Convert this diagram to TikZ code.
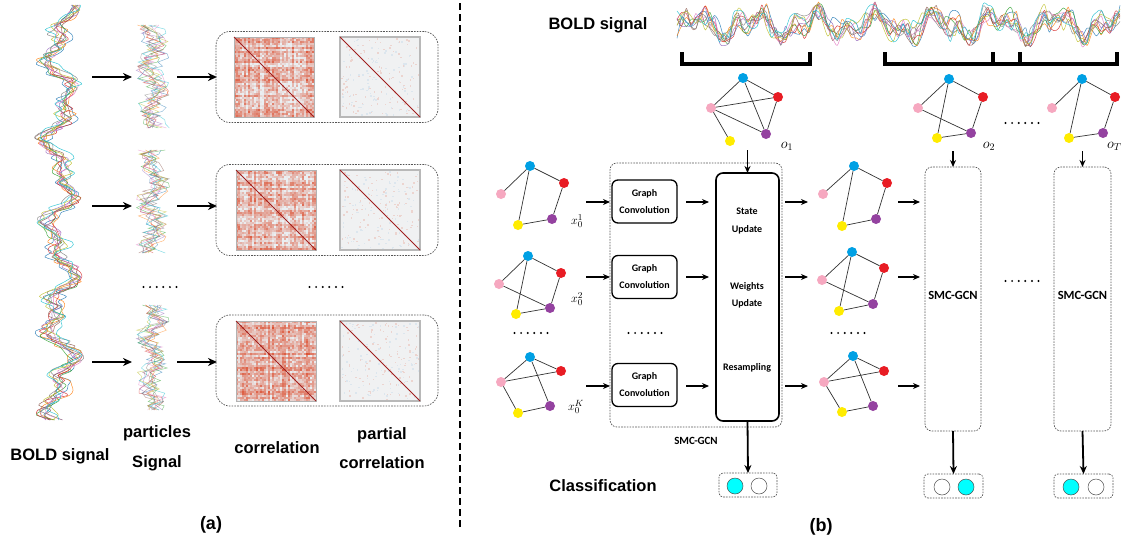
\documentclass[tikz,border=0pt]{standalone}
\usepackage{fontspec}
\newfontfamily\labfont{Liberation Sans}
\newfontfamily\boxfont{Carlito}
\usetikzlibrary{arrows.meta}

% graph node colours
\definecolor{nblue}{RGB}{0,160,228}
\definecolor{nred}{RGB}{232,28,36}
\definecolor{npink}{RGB}{246,168,192}
\definecolor{npurple}{RGB}{148,66,160}
\definecolor{nyellow}{RGB}{255,236,0}
\definecolor{ccyan}{RGB}{0,255,255}
% matrix colours
\definecolor{corrhi}{RGB}{220,80,50}
\definecolor{corrlo}{RGB}{234,239,242}
\definecolor{plo}{RGB}{240,241,242}
\definecolor{pblue}{RGB}{220,230,238}
\definecolor{diagred}{RGB}{160,30,30}
\definecolor{boxgrey}{RGB}{85,85,85}
% signal colours
\definecolor{sA}{HTML}{1F77B4}
\definecolor{sB}{HTML}{FF7F0E}
\definecolor{sC}{HTML}{2CA02C}
\definecolor{sD}{HTML}{D62728}
\definecolor{sE}{HTML}{9467BD}
\definecolor{sF}{HTML}{8C564B}
\definecolor{sG}{HTML}{E377C2}
\definecolor{sH}{HTML}{7F7F7F}
\definecolor{sI}{HTML}{BCBD22}
\definecolor{sJ}{HTML}{17BECF}

\pgfmathdeclarefunction{hsh}{1}{\pgfmathparse{abs(frac(sin(#1*91.7)*437.58))}}

\tikzset{
  gn/.style={circle,inner sep=0pt,outer sep=0pt,minimum size=10pt},
  ge/.style={draw=black!80,line width=0.7pt},
  bigarrow/.style={line width=2.2pt,-{Stealth[length=9pt,width=8pt]}},
  arr/.style={line width=1.4pt,-{Stealth[length=7pt,width=6pt]}},
  downarr/.style={line width=1.8pt,-{Stealth[length=8pt,width=7pt]}},
  dbox/.style={draw=boxgrey,line width=0.7pt,dash pattern=on 1.6pt off 1.2pt,
    inner sep=0pt,outer sep=0pt},
  gcbox/.style={draw,line width=1.3pt,rounded corners=6pt,minimum width=65pt,
    minimum height=43pt,align=center,inner sep=0pt,outer sep=0pt,
    font=\boxfont\bfseries\fontsize{10}{17}\selectfont},
  intext/.style={align=center,inner sep=0pt,
    font=\boxfont\bfseries\fontsize{10}{17.5}\selectfont},
  biglab/.style={align=center,inner sep=0pt,
    font=\labfont\bfseries\fontsize{16.5}{29.5}\selectfont},
  cls/.style={circle,draw=black!70,line width=0.5pt,minimum size=16pt,inner sep=0pt},
  dotrow/.pic={\foreach \k in {0,...,5} \fill (\k*6.6-16.5,0) circle (1.1pt);},
}

% five coloured vertices of one brain graph
\newcommand\gnodes[6]{%
  \node[gn,fill=nblue]   (#1b) at (#2) {};
  \node[gn,fill=nred]    (#1r) at (#3) {};
  \node[gn,fill=npink]   (#1p) at (#4) {};
  \node[gn,fill=npurple] (#1u) at (#5) {};
  \node[gn,fill=nyellow] (#1y) at (#6) {};}
\newcommand\edgesA[1]{\draw[ge] (#1p)--(#1b)--(#1r)--(#1u)--(#1y)--(#1b);}
\newcommand\edgesB[1]{\edgesA{#1}\draw[ge] (#1p)--(#1u);}
\newcommand\edgesC[1]{\draw[ge] (#1p)--(#1b)--(#1r)--(#1p)--(#1y)--(#1u)--(#1b);}
\newcommand\edgesD[1]{\draw[ge] (#1p)--(#1b)--(#1r)--(#1p)--(#1u)--(#1b);
  \draw[ge] (#1r)--(#1u); \draw[ge] (#1p)--(#1y);}

% correlation heat map: top-left corner, seed offset
\newcommand\corrmat[3]{%
  \foreach \i in {0,...,39}{\foreach \j in {0,...,39}{%
    \pgfmathtruncatemacro\v{max(0,min(100,-6+42*(hsh(\i+#3)+hsh(\j+#3))+26*rand))}%
    \fill[corrhi!\v!corrlo] ({#1+\i*2},{#2+\j*2}) rectangle ++(2.05,2.05);}}%
  \draw[black!30,line width=0.6pt] (#1,#2) rectangle ++(80,80);
  \draw[diagred,line width=0.9pt] (#1,#2) -- ++(80,80);}
% partial correlation heat map
\newcommand\pcorrmat[2]{%
  \fill[plo] (#1,#2) rectangle ++(80,80);
  \foreach \k in {1,...,110}{%
    \pgfmathsetmacro\px{#1+1+77*rnd}\pgfmathsetmacro\py{#2+1+77*rnd}%
    \fill[corrhi!18!plo] (\px,\py) rectangle ++(1.5,1.5);}
  \foreach \k in {1,...,90}{%
    \pgfmathsetmacro\px{#1+1+77*rnd}\pgfmathsetmacro\py{#2+1+77*rnd}%
    \fill[pblue] (\px,\py) rectangle ++(1.5,1.5);}
  \draw[black!28,line width=1.3pt] (#1,#2) rectangle ++(80,80);
  \draw[diagred,line width=0.9pt] (#1,#2) -- ++(80,80);}

\begin{document}
\begin{tikzpicture}[x=1pt,y=-1pt]
\pgfmathsetseed{11}
\fill[white] (0,0) rectangle (1127,546);
\useasboundingbox (0,0) rectangle (1127,546);

% ---------------- (a) ----------------
% whole-scan BOLD signal, vertical
\foreach \c [count=\i] in {sA,sB,sC,sD,sE,sF,sG,sH,sI,sJ}{
  \draw[\c,line width=0.5pt,opacity=0.85] plot[smooth,samples=85,domain=5:420]
    ({60+11*sin(4.1*\x+\i*9)+7*sin(9.3*\x+40)+8*rand},{\x});
}
% particle signals
\foreach \top/\bot in {25/128,150/253,305/410}{
  \foreach \c [count=\i] in {sA,sB,sC,sD,sE,sF,sG,sH,sI,sJ}{
    \draw[\c,line width=0.45pt,opacity=0.55] plot[samples=26,domain=\top:\bot]
      ({153+6*sin(8*\x+\i*15)+11*rand},{\x});
  }
}
% arrows
\foreach \r/\yy in {1/77,2/206,3/362}{
  \coordinate (aS\r) at (92,\yy);
  \coordinate (aM\r) at (132,\yy);
  \coordinate (aN\r) at (177,\yy);
  \coordinate (aE\r) at (217,\yy);
  \draw[bigarrow] (aS\r) -- (aM\r);
  \draw[bigarrow] (aN\r) -- (aE\r);
}
% matrix panels
\node[dbox,rounded corners=14pt,minimum width=222pt,minimum height=91pt] (pan1) at (327,77) {};
\node[dbox,rounded corners=14pt,minimum width=222pt,minimum height=91pt] (pan2) at (327,210) {};
\node[dbox,rounded corners=14pt,minimum width=222pt,minimum height=91pt] (pan3) at (327,360.5) {};
\corrmat{234}{37}{3}
\pcorrmat{340}{37}
\corrmat{236}{170}{41}
\pcorrmat{340}{170}
\corrmat{236}{321}{77}
\pcorrmat{340}{321}
\pic at (160,287) {dotrow};
\pic at (326,287) {dotrow};
% column labels
\node[biglab] (lbold) at (60,456) {BOLD signal};
\node[biglab] (lpart) at (157,448.5) {particles\\Signal};
\node[biglab] (lcorr) at (277,448) {correlation};
\node[biglab] (lpcor) at (382,448) {partial\\correlation};
\node[font=\labfont\bfseries\fontsize{18}{20}\selectfont] (capa) at (211,525) {(a)};

% divider
\draw[line width=1.6pt,dash pattern=on 7pt off 4pt] (460,3) -- (460,530);

% ---------------- (b) ----------------
\node[biglab] (rbold) at (598,25) {BOLD signal};
\begin{scope}
  \clip (676,0) rectangle (1121,56);
  \foreach \c [count=\i] in {sA,sB,sC,sD,sE,sF,sG,sH,sI,sJ}{
    \draw[\c,line width=0.5pt,opacity=0.85] plot[smooth,samples=95,domain=677:1120]
      ({\x},{25+9*sin(6*\x+\i*10)+6*sin(13*\x+50)+9*rand});
  }
\end{scope}
% sliding windows
\draw[line width=3.3pt] (682,52) |- (810,64) -- (810,52);
\draw[line width=3.3pt] (885,52) |- (1020,64) -- (1020,52);
\draw[line width=3.3pt] (993,52) |- (1117,64) -- (1117,52);

% observation graphs
\gnodes{oa}{743,78}{778,97}{711,108}{766,134}{730,141}
\edgesD{oa}
\node[font=\fontsize{14}{16}\selectfont,inner sep=0pt] (loa) at (787,146) {$o_1$};
\gnodes{ob}{949,79}{983,97}{918,108}{971,133}{937,138}
\edgesB{ob}
\node[font=\fontsize{14}{16}\selectfont,inner sep=0pt] (lob) at (989,146) {$o_2$};
\gnodes{oc}{1082,79}{1115,97}{1052,108}{1103,133}{1069,138}
\edgesA{oc}
\node[font=\fontsize{14}{16}\selectfont,inner sep=0pt,anchor=west] (loc) at (1107,146) {$o_T$};
\pic at (1022,123) {dotrow};

% initial particles
\gnodes{xa}{530,166}{564,183}{501,194}{552,219}{518,225}
\edgesA{xa}
\node[font=\fontsize{13}{15}\selectfont,inner sep=0pt] (lxa) at (577,221) {$x_0^1$};
\gnodes{xb}{528,256}{561,273}{499,284}{550,308}{516,314}
\edgesB{xb}
\node[font=\fontsize{13}{15}\selectfont,inner sep=0pt] (lxb) at (577,299) {$x_0^2$};
\gnodes{xc}{530,357}{561,371}{501,382}{550,406}{518,413}
\edgesC{xc}
\node[font=\fontsize{13}{15}\selectfont,inner sep=0pt] (lxc) at (576,407) {$x_0^K$};
\pic at (531,333) {dotrow};

% first SMC-GCN step
\node[dbox,rounded corners=7pt,minimum width=172pt,minimum height=264pt] (smcA) at (696,295) {};
\node[gcbox] (gc1) at (644.5,201.5) {Graph\\Convolution};
\node[gcbox] (gc2) at (644.5,277) {Graph\\Convolution};
\node[gcbox] (gc3) at (644.5,385) {Graph\\Convolution};
\pic at (645,333) {dotrow};
\node[draw,line width=1.6pt,rounded corners=7pt,minimum width=63pt,minimum height=248pt,
  inner sep=0pt,outer sep=0pt] (upd) at (747.5,297) {};
\node[intext] (tst) at (747,221) {State\\Update};
\node[intext] (twu) at (747,295.5) {Weights\\Update};
\node[intext] (trs) at (747,368) {Resampling};
\node[font=\boxfont\bfseries\fontsize{11}{13}\selectfont,inner sep=0pt] (lsmc) at (696,441) {SMC-GCN};

\foreach \g/\yy in {1/202,2/277,3/386}{
  \coordinate (xin\g) at (586,\yy);
  \draw[arr] (xin\g) -- (xin\g -| smcA.west);
  \draw[arr] ([xshift=9pt]gc\g.east |- xin\g) -- ([xshift=-7pt]upd.west |- xin\g);
  \draw[arr] ([xshift=6pt]upd.east |- xin\g) -- ([xshift=29pt]upd.east |- xin\g);
}
\draw[arr] ([yshift=23pt]upd.north) -- (upd.north);

% resampled particles
\gnodes{ma}{854,166}{887,183}{823,194}{876,219}{842,226}
\edgesA{ma}
\gnodes{mb}{852,252}{884,268}{822,280}{873,304}{839,311}
\edgesB{mb}
\gnodes{mc}{853,356}{884,371}{824,382}{873,406}{842,412}
\edgesC{mc}
\pic at (848,333) {dotrow};

% later SMC-GCN steps
\node[dbox,rounded corners=7pt,minimum width=56pt,minimum height=264pt] (smcB) at (953,299) {};
\node[dbox,rounded corners=7pt,minimum width=57pt,minimum height=264pt] (smcC) at (1082.5,299) {};
\node[font=\boxfont\bfseries\fontsize{12.5}{14}\selectfont,inner sep=0pt] (lsB) at (953,295) {SMC-GCN};
\node[font=\boxfont\bfseries\fontsize{12.5}{14}\selectfont,inner sep=0pt] (lsC) at (1082.5,295) {SMC-GCN};
\pic at (1022,281) {dotrow};
\foreach \g/\yy in {1/202,2/277,3/386}{
  \coordinate (min\g) at (898,\yy);
  \draw[arr] (min\g) -- ([xshift=-5pt]min\g -| smcB.west);
}
\draw[arr] ([yshift=16pt]smcB.north) -- (smcB.north);
\draw[arr] ([yshift=16pt]smcC.north) -- (smcC.north);

% classification outputs
\node[biglab] (lcls) at (603,486) {Classification};
\node[dbox,rounded corners=4pt,minimum width=58pt,minimum height=24pt] (outA) at (748,485) {};
\node[dbox,rounded corners=4pt,minimum width=59pt,minimum height=24pt] (outB) at (953.5,486) {};
\node[dbox,rounded corners=4pt,minimum width=59pt,minimum height=24pt] (outC) at (1083.5,486) {};
\node[cls,fill=ccyan] (cA1) at (735,486) {};
\node[cls,fill=white] (cA2) at (759,486) {};
\node[cls,fill=white] (cB1) at (942,487) {};
\node[cls,fill=ccyan] (cB2) at (966,487) {};
\node[cls,fill=ccyan] (cC1) at (1071,487) {};
\node[cls,fill=white] (cC2) at (1096,487) {};
\draw[downarr] (upd.south) -- (outA.north);
\draw[downarr] (smcB.south) -- (outB.north);
\draw[downarr] (smcC.south) -- (outC.north);

\node[font=\labfont\bfseries\fontsize{18}{20}\selectfont] (capb) at (821,527) {(b)};
\end{tikzpicture}
\end{document}
